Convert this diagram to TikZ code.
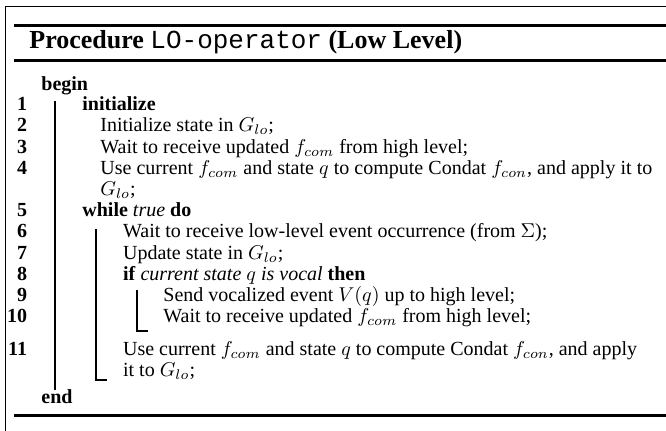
\documentclass[tikz,border=0pt]{standalone}
\usepackage[no-math]{fontspec}
\setmainfont{Liberation Serif}
\setmonofont{Liberation Mono}
\begin{document}
\begin{tikzpicture}[x=0.5pt,y=-0.5pt,
  txt/.style={anchor=base west, inner sep=0pt, font=\fontsize{10}{12}\selectfont},
  num/.style={anchor=base east, inner sep=0pt, font=\fontsize{10}{12}\selectfont\bfseries},
  ttl/.style={anchor=base west, inner sep=0pt, font=\fontsize{13}{15}\selectfont},
  bar/.style={line width=1pt},
  rulebar/.style={line width=1.5pt},
  framebar/.style={line width=0.8pt}]
\useasboundingbox (0,0) rectangle (666,430);
\begin{scope}
  \clip (0,0) rectangle (666,430);
  \draw[framebar] (5.5,440) -- (5.5,6.5) -- (680,6.5);
  \draw[rulebar] (14,25) -- (680,25);
  \draw[rulebar] (14,60.5) -- (680,60.5);
  \draw[rulebar] (14,415.5) -- (680,415.5);
\end{scope}
\node[ttl] (title) at (29,48) {\textbf{Procedure} \texttt{LO-operator} \textbf{(Low Level)}};
% line numbers
\node[num] (n1) at (27.5,110.7) {1};
\node[num] (n2) at (27.5,131.9) {2};
\node[num] (n3) at (27.5,153.1) {3};
\node[num] (n4) at (27.5,174.3) {4};
\node[num] (n5) at (27.5,216.7) {5};
\node[num] (n6) at (27.5,237.9) {6};
\node[num] (n7) at (27.5,259.1) {7};
\node[num] (n8) at (27.5,280.3) {8};
\node[num] (n9) at (27.5,301.5) {9};
\node[num] (n10) at (27.5,322.7) {10};
\node[num] (n11) at (27.5,355.7) {11};
% text
\node[txt] (begin) at (41,90.5) {\textbf{begin}};
\node[txt] (l1) at (82,110.7) {\textbf{initialize}};
\node[txt] (l2) at (100,131.9) {Initialize state in $G_{lo}$;};
\node[txt] (l3) at (100,153.1) {Wait to receive updated $f_{com}$ from high level;};
\node[txt] (l4) at (100,174.3) {\hbox to 276pt{Use current $f_{com}$ and state $q$ to compute Condat $f_{con}$, and apply it to}};
\node[txt] (l4b) at (100,195.5) {$G_{lo}$;};
\node[txt] (l5) at (82,216.7) {\textbf{while} \textit{true} \textbf{do}};
\node[txt] (l6) at (122.7,237.9) {Wait to receive low-level event occurrence (from $\Sigma$);};
\node[txt] (l7) at (122.7,259.1) {Update state in $G_{lo}$;};
\node[txt] (l8) at (122.7,280.3) {\textbf{if} \textit{current state $q$ is vocal} \textbf{then}};
\node[txt] (l9) at (163,301.5) {Send vocalized event $V(q)$ up to high level;};
\node[txt] (l10) at (163,322.7) {Wait to receive updated $f_{com}$ from high level;};
\node[txt] (l11) at (122.7,355.7) {\hbox to 257pt{Use current $f_{com}$ and state $q$ to compute Condat $f_{con}$, and apply}};
\node[txt] (l11b) at (122.7,376.9) {it to $G_{lo}$;};
\node[txt] (end) at (41,403.3) {\textbf{end}};
% block bars
\coordinate (bt) at (55,101);
\coordinate (bb) at (55,390);
\draw[bar] (bt) -- (bb);
\coordinate (wt) at (96,229);
\coordinate (wb) at (96,380);
\coordinate (wh) at (107,380);
\draw[bar] (wt) -- (wb) -- (wh);
\coordinate (it) at (137.3,290);
\coordinate (ib) at (137.3,331);
\coordinate (ih) at (147.5,331);
\draw[bar] (it) -- (ib) -- (ih);
\end{tikzpicture}
\end{document}
